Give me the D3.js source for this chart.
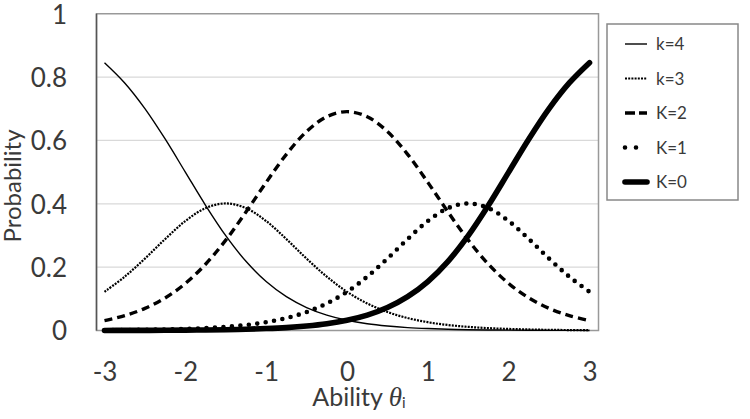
<!DOCTYPE html>
<html><head><meta charset="utf-8">
<script src="https://cdn.jsdelivr.net/npm/d3@7"></script>
<style>
html,body{margin:0;padding:0;background:#fff;}
svg{display:block;}
text{font-family:Lato, "Open Sans", sans-serif;}
</style></head>
<body>
<svg id="chart" width="750" height="419"></svg>
<script>
const theta = [-3,-2.75,-2.5,-2.25,-2,-1.75,-1.5,-1.25,-1,-0.75,-0.5,-0.25,0,0.25,0.5,0.75,1,1.25,1.5,1.75,2,2.25,2.5,2.75,3];
const k4 = [0.8455,0.7816,0.7006,0.6047,0.5000,0.3953,0.2994,0.2184,0.1545,0.1067,0.0724,0.0485,0.0323,0.0213,0.0141,0.0092,0.0061,0.0040,0.0026,0.0017,0.0011,0.0007,0.0005,0.0003,0.0002];
const k3 = [0.1222,0.1699,0.2270,0.2886,0.3455,0.3863,0.4012,0.3863,0.3455,0.2886,0.2270,0.1699,0.1222,0.0854,0.0583,0.0393,0.0262,0.0173,0.0115,0.0075,0.0050,0.0033,0.0021,0.0014,0.0009];
const k2 = [0.0312,0.0468,0.0698,0.1027,0.1484,0.2092,0.2853,0.3740,0.4677,0.5562,0.6282,0.6749,0.6910,0.6749,0.6282,0.5562,0.4677,0.3740,0.2853,0.2092,0.1484,0.1027,0.0698,0.0468,0.0312];
const k1 = [0.0009,0.0014,0.0021,0.0033,0.0050,0.0075,0.0115,0.0173,0.0262,0.0393,0.0583,0.0854,0.1222,0.1699,0.2270,0.2886,0.3455,0.3863,0.4012,0.3863,0.3455,0.2886,0.2270,0.1699,0.1222];
const k0 = [0.0002,0.0003,0.0005,0.0007,0.0011,0.0017,0.0026,0.0040,0.0061,0.0092,0.0141,0.0213,0.0323,0.0485,0.0724,0.1067,0.1545,0.2184,0.2994,0.3953,0.5000,0.6047,0.7006,0.7816,0.8455];
const seriesNames = ["k=4","k=3","K=2","K=1","K=0"];
const xTicks = [-3,-2,-1,0,1,2,3];
const xTickLabels = ["-3","-2","-1","0","1","2","3"];
const yTicks = [0,0.2,0.4,0.6,0.8,1];
const yTickLabels = ["0","0.2","0.4","0.6","0.8","1"];

const seriesData = [k4,k3,k2,k1,k0];
const styles = [
  {w:1.4, dash:null, cap:"butt", legDash:null},
  {w:2.2, dash:"2 1.2", cap:"butt", legDash:"2 1.2"},
  {w:3.4, dash:"8 5", cap:"butt", legDash:"10 4"},
  {w:4.6, dash:"0 8.5", cap:"round", legDash:"0 11"},
  {w:5.6, dash:null, cap:"round", legDash:null}
];

const svg = d3.select("#chart");
const x = d3.scaleLinear().domain([-3,3]).range([104.5,589.5]);
const y = d3.scaleLinear().domain([0,1]).range([330.5,13.75]);
const frameL = 96.5, frameR = 598.5;

// gridlines
svg.append("g").selectAll("line").data(yTicks.filter(d=>d>0 && d<1)).join("line")
  .attr("x1",frameL).attr("x2",frameR)
  .attr("y1",d=>y(d)).attr("y2",d=>y(d))
  .attr("stroke","#d9d9d9").attr("stroke-width",1.2);

// frame
svg.append("rect").attr("x",frameL).attr("y",y(1)).attr("width",frameR-frameL).attr("height",y(0)-y(1))
  .attr("fill","none").attr("stroke","#999").attr("stroke-width",1.5);
svg.append("line").attr("x1",frameL).attr("x2",frameL).attr("y1",y(1)).attr("y2",y(0))
  .attr("stroke","#555").attr("stroke-width",1.5);

// axes tick labels
const xAxis = d3.axisBottom(x).tickValues(xTicks).tickSize(0).tickFormat((d,i)=>xTickLabels[i]);
const gx = svg.append("g").attr("transform",`translate(0,${y(0)})`).call(xAxis);
gx.select(".domain").remove();
gx.selectAll("text").attr("dy",null).attr("y",50.5).attr("font-size",26).attr("fill","#3a3a3a")
  .attr("font-family","Lato, sans-serif");

const yAxis = d3.axisLeft(y).tickValues(yTicks).tickSize(0).tickFormat((d,i)=>yTickLabels[i]);
const gy = svg.append("g").attr("transform",`translate(67,0)`).call(yAxis);
gy.select(".domain").remove();
gy.selectAll("text").attr("x",0).attr("dy","0.36em").attr("font-size",26).attr("fill","#3a3a3a")
  .attr("font-family","Lato, sans-serif");

// lines
const line = d3.line().x((d,i)=>x(theta[i])).y(d=>y(d)).curve(d3.curveCatmullRom.alpha(0.5));
seriesData.forEach((data,i)=>{
  const s = styles[i];
  svg.append("path").datum(data).attr("d",line)
    .attr("fill","none").attr("stroke","#000").attr("stroke-width",s.w)
    .attr("stroke-linecap",s.cap).attr("stroke-linejoin","round")
    .attr("stroke-dasharray",s.dash);
});

// axis titles
svg.append("text").attr("transform","translate(21,186) rotate(-90)")
  .attr("text-anchor","middle").attr("font-size",24).attr("fill","#3a3a3a").text("Probability");
const xt = svg.append("text").attr("x",359).attr("y",406).attr("text-anchor","middle")
  .attr("font-size",25).attr("fill","#3a3a3a");
xt.append("tspan").text("Ability ");
xt.append("tspan").attr("font-family","'Liberation Serif', serif").attr("font-style","italic").attr("font-size",27).text("θ");
xt.append("tspan").attr("font-size",15).attr("dy",2).text("i");

// legend
const lg = svg.append("g");
lg.append("rect").attr("x",607).attr("y",24).attr("width",131).attr("height",176)
  .attr("fill","#fff").attr("stroke","#888").attr("stroke-width",1.5);
seriesNames.forEach((name,i)=>{
  const s = styles[i];
  const yy = 44 + i*34.5;
  lg.append("line").attr("x1",625).attr("x2",647).attr("y1",yy).attr("y2",yy)
    .attr("stroke","#000").attr("stroke-width",s.w).attr("stroke-linecap",s.cap)
    .attr("stroke-dasharray",s.legDash);
  lg.append("text").attr("x",656).attr("y",yy).attr("dy","0.36em").attr("font-size",17)
    .attr("fill","#3a3a3a").text(name);
});
</script>
</body></html>
